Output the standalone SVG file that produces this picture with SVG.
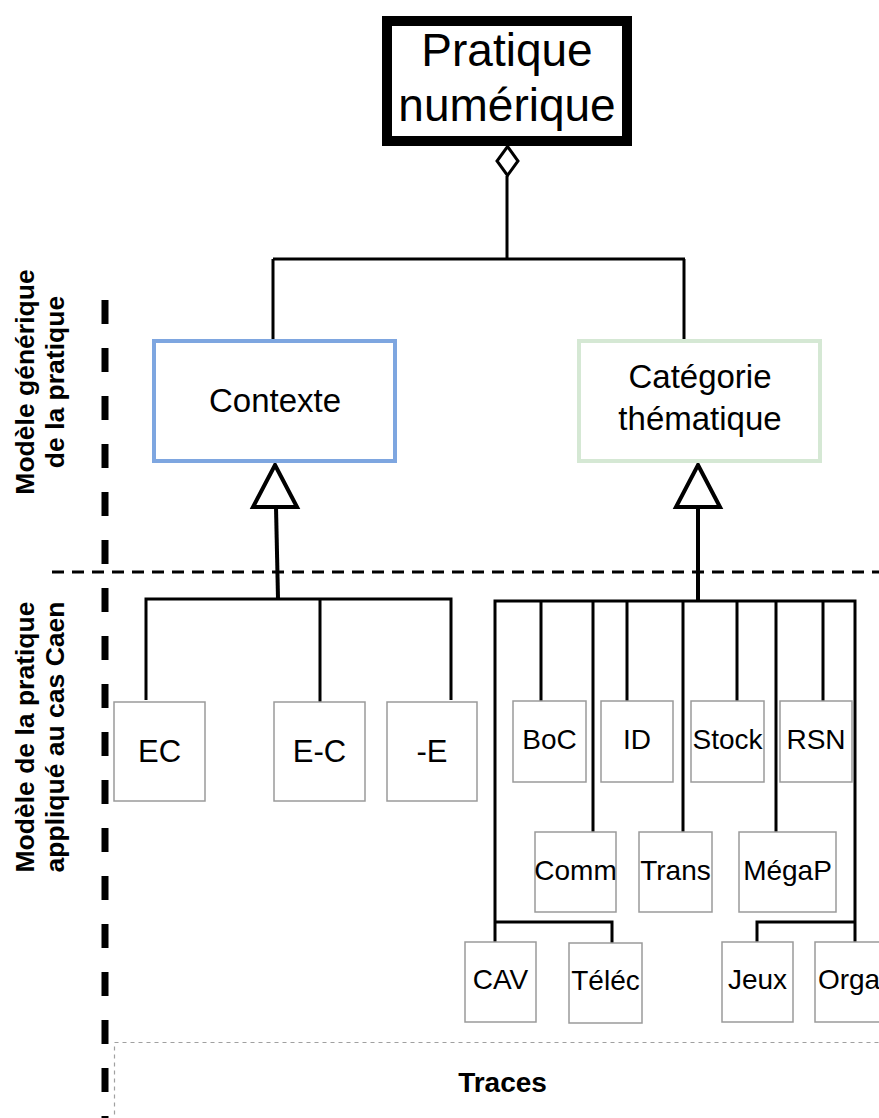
<svg xmlns="http://www.w3.org/2000/svg" width="879" height="1118" viewBox="0 0 879 1118">
<style>
text{font-family:"Liberation Sans",Arial,sans-serif;fill:#000;text-anchor:middle}
.leaf{fill:#fff;stroke:#9a9a9a;stroke-width:1.5}
.t27{font-size:28px}
.t31{font-size:31px}
.t33{font-size:33px}
.conn{fill:none;stroke:#000;stroke-width:3}
.gen{fill:none;stroke:#000;stroke-width:4}
.tri{fill:#fff;stroke:#000;stroke-width:4;stroke-linejoin:miter}
.lbl{font-size:26.5px;font-weight:bold}
</style>
<rect width="879" height="1118" fill="#fff"/>

<g id="separators">
<line x1="105" y1="300" x2="105" y2="1118" stroke="#000" stroke-width="7" stroke-dasharray="24 24"/>
<line x1="52" y1="572" x2="879" y2="572" stroke="#000" stroke-width="3" stroke-dasharray="12 8"/>
<rect x="114.5" y="1042.5" width="820" height="200" fill="none" stroke="#a0a0a0" stroke-width="1.2" stroke-dasharray="4 4"/>
</g>

<g id="labels">
<text class="lbl" transform="translate(34,382) rotate(-90)">Modèle générique</text>
<text class="lbl" transform="translate(64,382) rotate(-90)">de la pratique</text>
<text class="lbl" transform="translate(34,737) rotate(-90)">Modèle de la pratique</text>
<text class="lbl" transform="translate(64,737) rotate(-90)">appliqué au cas Caen</text>
<text x="502.5" y="1092" style="font-size:28px;font-weight:bold">Traces</text>
</g>

<g id="connectors">
<path class="conn" d="M507,176 V259 M273,259 H685 M273,259 V341 M684,259 V341"/>
<path d="M507.5,146.5 L518,161 L507.5,175.5 L497,161 Z" fill="#fff" stroke="#000" stroke-width="3"/>
<path class="gen" d="M276,507 L278,598"/>
<path class="tri" d="M275,465 L297,507 L253,507 Z"/>
<path class="conn" d="M146,700 V599 H451 V700 M320,599 V702"/>
<path class="gen" d="M698,507 V600"/>
<path class="tri" d="M698,465 L720,507 L676,507 Z"/>
<path class="conn" d="M495,942 V601 H855 V942 M541,601 V701 M627,601 V701 M737,601 V701 M823,601 V701 M593,601 V832 M683,601 V832 M776,601 V832 M495,922 H612 V943 M855,922 H757 V942"/>
</g>

<g id="node-pratique">
<rect x="387" y="21" width="240" height="120" fill="#fff" stroke="#000" stroke-width="10"/>
<text x="507" y="66" style="font-size:46px">Pratique</text>
<text x="507" y="121" style="font-size:46px">numérique</text>
</g>
<g id="node-contexte">
<rect x="154" y="341" width="241" height="120" fill="#fff" stroke="#7ea6e0" stroke-width="4"/>
<text class="t33" x="275" y="412">Contexte</text>
</g>
<g id="node-categorie">
<rect x="579" y="341" width="241" height="120" fill="#fff" stroke="#d5e8d4" stroke-width="4"/>
<text class="t33" x="700" y="388">Catégorie</text>
<text class="t33" x="700" y="430">thématique</text>
</g>

<g id="node-ec"><rect class="leaf" x="114" y="702" width="91" height="99"/><text class="t31" x="159.5" y="762">EC</text></g>
<g id="node-e-c"><rect class="leaf" x="274" y="702" width="91" height="99"/><text class="t31" x="319.5" y="762">E-C</text></g>
<g id="node-e"><rect class="leaf" x="387" y="702" width="90" height="99"/><text class="t31" x="432" y="762">-E</text></g>

<g id="node-boc"><rect class="leaf" x="513" y="701" width="73" height="81"/><text class="t27" x="549.5" y="749">BoC</text></g>
<g id="node-id"><rect class="leaf" x="601" y="701" width="72" height="81"/><text class="t27" x="637" y="749">ID</text></g>
<g id="node-stock"><rect class="leaf" x="691" y="701" width="73" height="81"/><text class="t27" x="727.5" y="749">Stock</text></g>
<g id="node-rsn"><rect class="leaf" x="780" y="701" width="72" height="81"/><text class="t27" x="816" y="749">RSN</text></g>

<g id="node-comm"><rect class="leaf" x="535" y="832" width="81" height="80"/><text class="t27" x="575.5" y="880">Comm</text></g>
<g id="node-trans"><rect class="leaf" x="639" y="832" width="73" height="80"/><text class="t27" x="675.5" y="880">Trans</text></g>
<g id="node-megap"><rect class="leaf" x="739" y="832" width="97" height="80"/><text class="t27" x="787.5" y="880">MégaP</text></g>

<g id="node-cav"><rect class="leaf" x="465" y="942" width="71" height="80"/><text class="t27" x="500.5" y="989">CAV</text></g>
<g id="node-telec"><rect class="leaf" x="569" y="943" width="73" height="80"/><text class="t27" x="605.5" y="990">Téléc</text></g>
<g id="node-jeux"><rect class="leaf" x="722" y="942" width="71" height="80"/><text class="t27" x="757.5" y="989">Jeux</text></g>
<g id="node-orga"><rect class="leaf" x="815" y="942" width="73" height="80"/><text class="t27" x="849" y="989">Orga</text></g>
</svg>
